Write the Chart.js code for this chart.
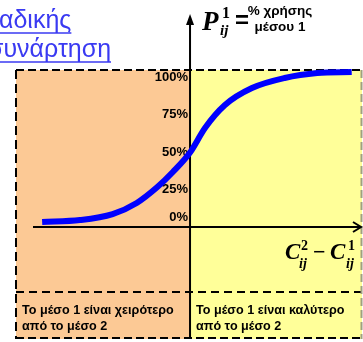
<html><head>
    <meta charset="UTF-8">
    <title>Λογιστική συνάρτηση</title>
    <script src="https://cdn.jsdelivr.net/npm/chart.js"></script>
    <style>
        body {
            margin: 0;
            background-color: #fff;
            overflow: hidden;
        }
        #wrap {
            width: 363px;
            height: 342px;
        }
    </style>
</head>
<body>
    <div id="wrap"><canvas id="chart" width="363" height="342"></canvas></div>

    <script>
        // cost difference C2 - C1 (arbitrary units, 0 = equal cost)
        const costDiff = [-8.6, -6.4, -4.5, -3.1, -1.9, -1.0, 0, 0.87, 2.03, 3.6, 5.5, 7.4, 9.4];
        // share of mode 1 in %
        const shareMode1 = [0, 1.3, 5.3, 12.7, 23.3, 33.3, 46.3, 62.7, 78, 89.3, 96, 99.3, 100];
        const yTickValues = [0, 25, 50, 75, 100];
        const yTickLabels = ['0%', '25%', '50%', '75%', '100%'];
        const titleLines = ['αδικής', 'συνάρτηση'];
        const yTitle = ['% χρήσης', 'μέσου 1'];
        const leftNote = ['Το μέσο 1 είναι χειρότερο', 'από το μέσο 2'];
        const rightNote = ['Το μέσο 1 είναι καλύτερο', 'από το μέσο 2'];

        const SANS = '"Liberation Sans", Arial, sans-serif';
        const SERIF = '"Liberation Serif", "Times New Roman", serif';

        function dashedLine(ctx, x1, y1, x2, y2, color, dash) {
            ctx.save();
            ctx.strokeStyle = color;
            ctx.lineWidth = 2;
            ctx.setLineDash(dash);
            ctx.beginPath();
            ctx.moveTo(x1, y1);
            ctx.lineTo(x2, y2);
            ctx.stroke();
            ctx.restore();
        }

        // backgrounds, dashed boxes and axes under the curve
        const backdrop = {
            id: 'backdrop',
            beforeDatasetsDraw(chart) {
                const {ctx, chartArea: a, scales: {x, y}} = chart;
                const x0 = x.getPixelForValue(0);
                const axisY = a.top + 157;
                const noteY = a.bottom - 47;

                ctx.save();
                ctx.fillStyle = '#fcc995';
                ctx.fillRect(a.left, a.top, x0 - a.left, a.bottom - a.top);
                ctx.fillStyle = '#ffff99';
                ctx.fillRect(x0, a.top, a.right - x0, a.bottom - a.top);

                dashedLine(ctx, a.left, a.top, a.right, a.top, '#000', [8, 4]);
                dashedLine(ctx, a.left, a.top, a.left, a.bottom, '#000', [9, 5]);
                dashedLine(ctx, a.left, noteY, a.right, noteY, '#000', [8, 5]);
                dashedLine(ctx, a.left, a.bottom - 1, a.right, a.bottom - 1, '#000', [8, 4]);
                dashedLine(ctx, a.right - 0.5, a.top, a.right - 0.5, a.bottom, '#a0a080', [8, 4]);

                // axes
                ctx.strokeStyle = '#000';
                ctx.fillStyle = '#000';
                ctx.lineWidth = 2;
                ctx.beginPath();
                ctx.moveTo(x0, a.bottom);
                ctx.lineTo(x0, 22);
                ctx.moveTo(a.left + 17, axisY);
                ctx.lineTo(a.right - 1, axisY);
                ctx.stroke();
                ctx.beginPath();
                ctx.moveTo(x0, 14);
                ctx.lineTo(x0 - 4, 25);
                ctx.lineTo(x0 + 4, 25);
                ctx.closePath();
                ctx.fill();
                ctx.beginPath();
                ctx.moveTo(a.right - 9, axisY - 5);
                ctx.lineTo(a.right - 1, axisY);
                ctx.lineTo(a.right - 9, axisY + 5);
                ctx.stroke();

                // y tick labels, left of the axis; 0% sits a bit above the x axis
                ctx.font = 'bold 13px ' + SANS;
                ctx.textAlign = 'right';
                ctx.textBaseline = 'middle';
                yTickValues.forEach((v, i) => {
                    const py = y.getPixelForValue(v) + (i === 0 ? -5 : 5);
                    ctx.fillText(yTickLabels[i], x0 - 2, py);
                });

                // notes under the chart
                ctx.font = 'bold 12.6px ' + SANS;
                ctx.textAlign = 'left';
                leftNote.forEach((t, i) => ctx.fillText(t, a.left + 6, noteY + 19 + i * 16));
                rightNote.forEach((t, i) => ctx.fillText(t, x0 + 6, noteY + 19 + i * 16));
                ctx.restore();
            },
            afterDraw(chart) {
                const {ctx} = chart;
                ctx.save();
                ctx.fillStyle = '#000';
                ctx.textBaseline = 'alphabetic';

                // P^1_ij = % χρήσης μέσου 1
                ctx.font = 'bold italic 27px ' + SERIF;
                ctx.fillText('P', 202, 30);
                ctx.font = 'bold 16px ' + SERIF;
                ctx.fillText('1', 222, 18);
                ctx.font = 'bold italic 15px ' + SERIF;
                ctx.fillText('ij', 220, 35);
                ctx.font = 'bold 24px ' + SANS;
                ctx.fillText('=', 235, 28);
                ctx.font = 'bold 13.5px ' + SANS;
                ctx.textAlign = 'center';
                ctx.fillText(yTitle[0], 280, 15);
                ctx.fillText(yTitle[1], 280, 31);
                ctx.textAlign = 'left';

                // C^2_ij - C^1_ij
                ctx.font = 'bold italic 23px ' + SERIF;
                ctx.fillText('C', 285, 259);
                ctx.fillText('C', 330, 259);
                ctx.font = 'bold 14px ' + SERIF;
                ctx.fillText('2', 301, 250);
                ctx.fillText('1', 348, 250);
                ctx.font = 'bold italic 14px ' + SERIF;
                ctx.fillText('ij', 299, 268);
                ctx.fillText('ij', 346, 268);
                ctx.font = 'bold 22px ' + SERIF;
                ctx.fillText('\u2212', 313, 259);

                // title, cut at the left edge
                ctx.font = '25px ' + SANS;
                ctx.fillStyle = '#3a3af2';
                ctx.strokeStyle = '#3a3af2';
                ctx.lineWidth = 1.5;
                const tx = [-1, -12];
                const ty = [28, 57];
                titleLines.forEach((t, i) => {
                    ctx.fillText(t, tx[i], ty[i]);
                    const w = ctx.measureText(t).width;
                    ctx.beginPath();
                    ctx.moveTo(0, ty[i] + 5);
                    ctx.lineTo(tx[i] + w, ty[i] + 5);
                    ctx.stroke();
                });
                ctx.restore();
            }
        };

        new Chart(document.getElementById('chart'), {
            type: 'line',
            data: {
                datasets: [{
                    data: costDiff.map((v, i) => ({x: v, y: shareMode1[i]})),
                    borderColor: '#0000ff',
                    borderWidth: 6,
                    borderCapStyle: 'butt',
                    pointRadius: 0,
                    cubicInterpolationMode: 'monotone',
                    fill: false,
                    clip: false
                }]
            },
            options: {
                responsive: false,
                animation: false,
                events: [],
                layout: {padding: {left: 16, top: 70, right: 1, bottom: 3}},
                plugins: {legend: {display: false}, tooltip: {enabled: false}},
                scales: {
                    x: {
                        type: 'linear',
                        min: -10.12,
                        max: 10,
                        display: false
                    },
                    y: {
                        type: 'linear',
                        min: -78,
                        max: 101.33,
                        display: false
                    }
                }
            },
            plugins: [backdrop]
        });
    </script>
</body></html>
